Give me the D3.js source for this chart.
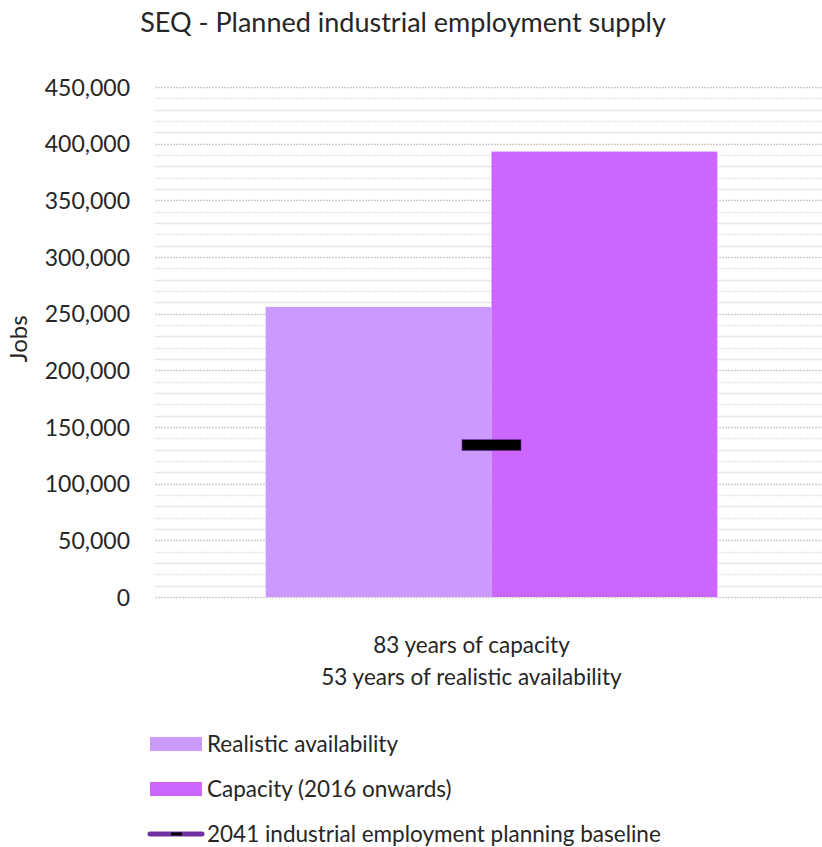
<!DOCTYPE html>
<html>
<head>
<meta charset="utf-8">
<script src="https://cdn.jsdelivr.net/npm/d3@7"></script>
<style>
  body { margin: 0; background: #fff; }
  text { font-family: Lato, "Open Sans", sans-serif; fill: #262626; }
</style>
</head>
<body>
<div id="chart"></div>
<script>
// data
var categories = ["83 years of capacity|53 years of realistic availability"];
var seriesNames = ["Realistic availability", "Capacity (2016 onwards)"];
var seriesValues = [256000, 393000];
var seriesColors = ["#cc99ff", "#cc66ff"];
var baselineName = "2041 industrial employment planning baseline";
var baselineValue = 134000;
var yTicks = [0, 50000, 100000, 150000, 200000, 250000, 300000, 350000, 400000, 450000];

var width = 822, height = 847;
var margin = {top: 87, left: 155, right: -6, bottom: 250};

var svg = d3.select("#chart").append("svg")
    .attr("width", width)
    .attr("height", height);

var xScale = d3.scaleBand()
    .domain(categories)
    .range([margin.left, width - margin.right])
    .paddingInner(0)
    .paddingOuter(0.245);

var xInner = d3.scaleBand()
    .domain(seriesNames)
    .range([0, xScale.bandwidth()]);

var yScale = d3.scaleLinear()
    .domain([0, 450000])
    .range([height - margin.bottom, margin.top]);

// minor gridlines every 10,000
var minor = d3.range(10000, 450000, 10000).filter(function(v) { return v % 50000 !== 0; });
svg.append("g").selectAll("line")
    .data(minor)
    .enter().append("line")
    .attr("x1", margin.left).attr("x2", width)
    .attr("y1", function(d) { return Math.round(yScale(d)) + 0.5; })
    .attr("y2", function(d) { return Math.round(yScale(d)) + 0.5; })
    .attr("stroke", "#e6e6e6")
    .attr("stroke-width", 1.5)
    .attr("stroke-dasharray", function(d, i) { return i % 2 ? "2,1" : null; });

// major gridlines
svg.append("g").selectAll("line")
    .data(yTicks)
    .enter().append("line")
    .attr("x1", margin.left).attr("x2", width)
    .attr("y1", function(d) { return Math.round(yScale(d)) + 0.5; })
    .attr("y2", function(d) { return Math.round(yScale(d)) + 0.5; })
    .attr("stroke", "#cfcfcf")
    .attr("stroke-width", 1.5)
    .attr("stroke-dasharray", "2,1");

// y axis labels
var yAxis = svg.append("g")
    .attr("transform", "translate(" + (margin.left - 22) + ",0)")
    .call(d3.axisLeft(yScale).tickValues(yTicks).tickSize(0).tickFormat(d3.format(",")));
yAxis.select(".domain").remove();
yAxis.selectAll("text")
    .attr("font-size", 23)
    .attr("font-family", "Lato, 'Open Sans', sans-serif")
    .attr("fill", "#404040")
    .attr("dy", "0.35em");

// bars
svg.append("g").selectAll("rect")
    .data(seriesNames)
    .enter().append("rect")
    .attr("x", function(d) { return xScale(categories[0]) + xInner(d); })
    .attr("width", xInner.bandwidth())
    .attr("y", function(d, i) { return yScale(seriesValues[i]); })
    .attr("height", function(d, i) { return yScale(0) - yScale(seriesValues[i]); })
    .attr("fill", function(d, i) { return seriesColors[i]; });

// baseline marker
var cx = xScale(categories[0]) + xScale.bandwidth() / 2;
svg.append("rect")
    .attr("x", cx - 29.5)
    .attr("width", 59)
    .attr("y", yScale(baselineValue) - 5.5)
    .attr("height", 11)
    .attr("fill", "#000")
    .attr("stroke", "#7030a0")
    .attr("stroke-width", 0.6);

// category labels
var catLines = categories[0].split("|");
svg.append("g").selectAll("text")
    .data(catLines)
    .enter().append("text")
    .attr("x", cx - 20)
    .attr("y", function(d, i) { return 653 + i * 32; })
    .attr("text-anchor", "middle")
    .attr("font-size", 22.5)
    .text(function(d) { return d; });

// title
svg.append("text")
    .attr("x", 403)
    .attr("y", 32)
    .attr("text-anchor", "middle")
    .attr("font-size", 27)
    .text("SEQ - Planned industrial employment supply");

// y axis title
svg.append("text")
    .attr("transform", "translate(27," + 339 + ") rotate(-90)")
    .attr("text-anchor", "middle")
    .attr("font-size", 24)
    .text("Jobs");

// legend
var legend = svg.append("g");
seriesNames.forEach(function(name, i) {
    var y = 744 + i * 45;
    legend.append("rect")
        .attr("x", 150).attr("y", y - 7)
        .attr("width", 52).attr("height", 14)
        .attr("fill", seriesColors[i]);
    legend.append("text")
        .attr("x", 207).attr("y", y + 8)
        .attr("font-size", 22.5)
        .text(name);
});
legend.append("line")
    .attr("x1", 150).attr("x2", 202)
    .attr("y1", 834).attr("y2", 834)
    .attr("stroke", "#7030a0")
    .attr("stroke-width", 5)
    .attr("stroke-linecap", "round");
legend.append("line")
    .attr("x1", 171).attr("x2", 182)
    .attr("y1", 834).attr("y2", 834)
    .attr("stroke", "#000")
    .attr("stroke-width", 3);
legend.append("text")
    .attr("x", 207).attr("y", 842)
    .attr("font-size", 22.5)
    .text(baselineName);
</script>
</body>
</html>
